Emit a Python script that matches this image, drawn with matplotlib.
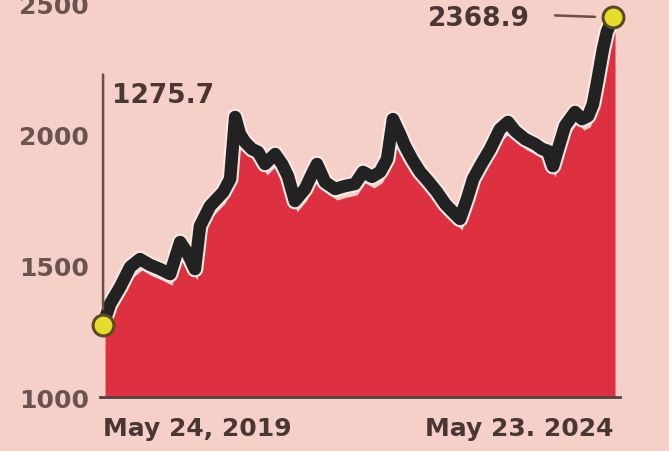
import matplotlib
matplotlib.use("Agg")
from matplotlib import pyplot as plt
from matplotlib import patheffects as pe
from matplotlib import transforms
import pandas as pd

# Index level
dates = ["2019-05-24", "2019-06-18", "2019-07-24", "2019-08-29", "2019-10-03",
         "2019-11-08", "2019-12-14", "2020-01-19", "2020-02-24", "2020-03-23",
         "2020-04-17", "2020-05-05", "2020-06-10", "2020-07-27", "2020-08-21",
         "2020-09-08", "2020-09-25", "2020-10-13", "2020-11-07", "2020-11-29",
         "2020-12-24", "2021-01-29", "2021-02-23", "2021-03-16", "2021-04-10",
         "2021-05-16", "2021-06-10", "2021-06-28", "2021-07-27", "2021-09-01",
         "2021-10-06", "2021-11-11", "2021-12-10", "2022-01-11", "2022-02-09",
         "2022-03-06", "2022-03-27", "2022-04-21", "2022-05-09", "2022-06-03",
         "2022-07-02", "2022-07-31", "2022-09-01", "2022-09-30", "2022-10-28",
         "2022-11-22", "2022-12-17", "2023-01-08", "2023-02-02", "2023-03-10",
         "2023-04-14", "2023-05-13", "2023-06-07", "2023-07-13", "2023-08-18",
         "2023-09-12", "2023-10-03", "2023-10-21", "2023-11-08", "2023-12-03",
         "2024-01-08", "2024-02-02", "2024-02-24", "2024-03-12", "2024-03-27",
         "2024-04-17", "2024-05-01", "2024-05-23"]
values = [1275.7, 1354, 1419, 1495, 1525, 1503, 1487, 1468, 1590, 1544,
          1487, 1651, 1727, 1780, 1830, 2066, 2001, 1971, 1944, 1933,
          1887, 1925, 1887, 1841, 1746, 1792, 1849, 1887, 1818, 1792,
          1803, 1811, 1857, 1838, 1857, 1906, 2058, 2001, 1956, 1906,
          1857, 1822, 1780, 1735, 1704, 1678, 1754, 1830, 1879, 1944,
          2020, 2047, 2013, 1982, 1963, 1944, 1937, 1879, 1944, 2032,
          2085, 2058, 2070, 2115, 2199, 2325, 2390, 2445]
yticks = [1000, 1500, 2000, 2500]
start_label = "May 24, 2019"
end_label = "May 23. 2024"
first_note = "1275.7"
last_note = "2368.9"

x = pd.to_datetime(dates)

bg = "#f5d0c9"
red = "#dd3142"
ink = "#4a3633"
tick_ink = "#6b5350"

fig = plt.figure(figsize=(6.69, 4.52), dpi=100, facecolor=bg)
ax = fig.add_axes([100 / 669, 1 - 398 / 452, 520 / 669, 394 / 452])
ax.set_facecolor("none")

# red area sits a little below/right of the black line
shifted = transforms.offset_copy(ax.transData, fig, x=2, y=-11, units="dots")
ax.fill_between(x, 1000, values, color=red, lw=0, transform=shifted, zorder=2)

ax.plot(x, values, color="#222222", lw=9, solid_joinstyle="round",
        solid_capstyle="round", zorder=3,
        path_effects=[pe.Stroke(linewidth=12, foreground="#fbe8e4"), pe.Normal()])

# markers at both ends
ax.plot([x[0], x[-1]], [values[0], values[-1]], "o", ms=15, mfc="#e6dc2e",
        mec="#5a4a22", mew=2.2, zorder=5, clip_on=False)

# note lines and numbers
ax.annotate("", xy=(x[0], values[0]), xytext=(0, 250), textcoords="offset pixels",
            arrowprops=dict(arrowstyle="-", color="#6e4d47", lw=1.8,
                            shrinkA=0, shrinkB=11), zorder=4)
ax.annotate(first_note, xy=(x[0], values[0]), xytext=(9, 230),
            textcoords="offset pixels", ha="left", va="center",
            fontsize=19, fontweight="bold", color=ink)
ax.annotate("", xy=(x[-1], values[-1]), xytext=(-58, 2), textcoords="offset pixels",
            arrowprops=dict(arrowstyle="-", color="#6e4d47", lw=1.8,
                            shrinkA=0, shrinkB=13), zorder=4)
ax.annotate(last_note, xy=(x[-1], values[-1]), xytext=(-83, -1),
            textcoords="offset pixels", ha="right", va="center",
            fontsize=19, fontweight="bold", color=ink)

ax.set_ylim(1000, 2500)
ax.set_xlim(x[0] - pd.Timedelta(days=11), x[-1] + pd.Timedelta(days=25))

ax.set_yticks(yticks)
ax.set_yticklabels([str(t) for t in yticks], fontsize=18, fontweight="bold",
                   color=tick_ink)
# y labels sit a few pixels above their level in the original
lift = transforms.ScaledTranslation(0, 4 / 100, fig.dpi_scale_trans)
for lab in ax.get_yticklabels():
    lab.set_transform(lab.get_transform() + lift)

ax.set_xticks([x[0], x[-1]])
ax.set_xticklabels([start_label, end_label], fontsize=18, fontweight="bold",
                   color=ink)
xl = ax.get_xticklabels()
xl[0].set_ha("left")
xl[1].set_ha("right")
ax.tick_params(axis="y", length=0, pad=8)
ax.tick_params(axis="x", length=0, pad=14)

for s in ["top", "right", "left"]:
    ax.spines[s].set_visible(False)
ax.spines["bottom"].set_color("#5a3f3c")
ax.spines["bottom"].set_linewidth(2)
ax.spines["bottom"].set_zorder(4)

fig.savefig("out.png", dpi=100, facecolor=bg)
